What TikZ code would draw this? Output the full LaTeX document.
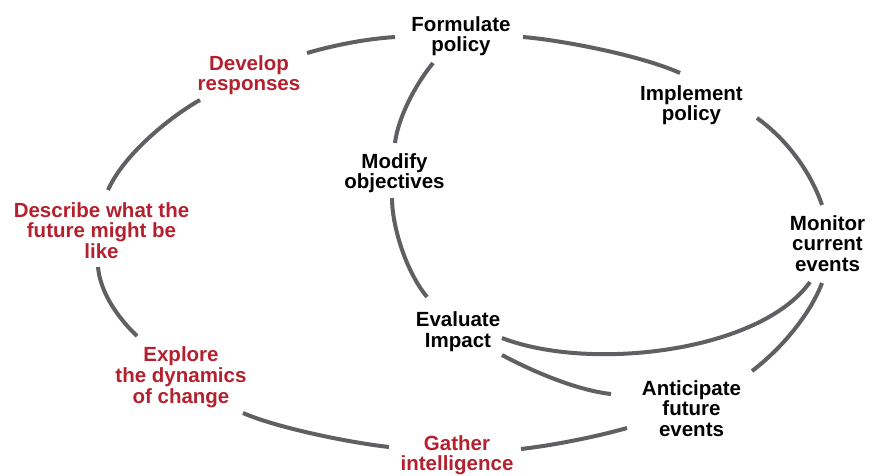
\documentclass[tikz,border=0pt]{standalone}
\usepackage{fontspec}
\setmainfont{Liberation Sans}
\definecolor{cred}{RGB}{180,32,45}
\definecolor{cgray}{RGB}{96,96,100}
\tikzset{
  lbl/.style={anchor=north, inner sep=0pt, align=center, font=\fontsize{20.5}{20.7}\selectfont\bfseries},
  blk/.style={lbl, text=black},
  rd/.style={lbl, text=cred},
  arc/.style={draw=cgray, line width=4pt}
}
\begin{document}
\begin{tikzpicture}[x=1pt,y=-1pt]
\useasboundingbox (0,0) rectangle (875,475);
% labels
\node[blk] (form) at (461,16) {Formulate\\policy};
\node[rd]  (dev)  at (249,55) {Develop\\responses};
\node[rd]  (desc) at (101.5,202) {Describe what the\\future might be\\like};
\node[rd]  (expl) at (181,346.7) {Explore\\the dynamics\\of change};
\node[rd]  (gath) at (457,435) {Gather\\intelligence};
\node[blk] (anti) at (691.5,380) {Anticipate\\future\\events};
\node[blk] (eval) at (458,311.7) {Evaluate\\Impact};
\node[blk] (mod)  at (394.5,153) {Modify\\objectives};
\node[blk] (impl) at (691.5,85) {Implement\\policy};
\node[blk] (mon)  at (827.5,215) {Monitor\\current\\events};
% connector ends
\coordinate (formW) at (395,37);
\coordinate (devE)  at (307,53);
\coordinate (devS)  at (200,100);
\coordinate (descN) at (108,190);
\coordinate (descS) at (98,267);
\coordinate (explN) at (137,336);
\coordinate (explE) at (243,413);
\coordinate (gathW) at (389,447);
\coordinate (gathE) at (521,449);
\coordinate (antiW) at (627,428);
\coordinate (antiE) at (752,371);
\coordinate (monSR) at (822,283);
\coordinate (monSL) at (810,282);
\coordinate (evalE) at (502,338);
\coordinate (evalSE) at (502,355);
\coordinate (antiNW) at (611,394);
\coordinate (evalN) at (427,297);
\coordinate (modS) at (392,198);
\coordinate (modN) at (395,143);
\coordinate (formS) at (433,63);
\coordinate (formE) at (523,37);
\coordinate (implW) at (680,73);
\coordinate (implS) at (757,118);
\coordinate (monN) at (822,205);
% connectors
\draw[arc] (formW) .. controls (365,39) and (335,45) .. (devE);
\draw[arc] (devS) .. controls (178,112) and (126,150) .. (descN);
\draw[arc] (descS) .. controls (100,290) and (115,315) .. (explN);
\draw[arc] (explE) .. controls (275,427) and (345,442) .. (gathW);
\draw[arc] (gathE) .. controls (555,445) and (595,437) .. (antiW);
\draw[arc] (antiE) .. controls (780,350) and (810,315) .. (monSR);
\draw[arc] (monSL) .. controls (760,352) and (590,372) .. (evalE);
\draw[arc] (evalSE) .. controls (530,370) and (575,390) .. (antiNW);
\draw[arc] (evalN) .. controls (405,270) and (392,225) .. (modS);
\draw[arc] (modN) .. controls (398,118) and (415,85) .. (formS);
\draw[arc] (formE) .. controls (560,40) and (640,55) .. (implW);
\draw[arc] (implS) .. controls (785,138) and (810,170) .. (monN);
\end{tikzpicture}
\end{document}
